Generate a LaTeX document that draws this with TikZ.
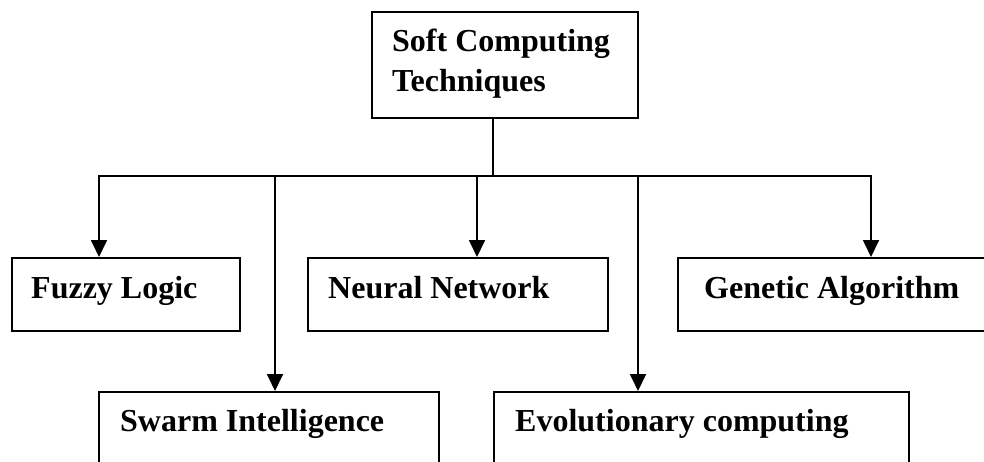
\documentclass[tikz,border=0pt]{standalone}
\usepackage{fontspec}
\setmainfont{Liberation Serif}
\usetikzlibrary{arrows.meta}
\begin{document}
\begin{tikzpicture}[x=1pt,y=-1pt,
  box/.style={draw, line width=1.8pt, inner sep=0pt, anchor=north west},
  lbl/.style={anchor=base west, inner sep=0pt, font=\fontsize{32}{40}\selectfont\bfseries},
  link/.style={line width=1.8pt},
  arrow/.style={link, -{Triangle[width=16pt,length=17pt]}}]
\clip (0,0) rectangle (984,462);

% boxes
\node[box, minimum width=266pt, minimum height=106pt] (root) at (371,11) {};
\node[box, minimum width=228pt, minimum height=73pt] (fuzzy) at (11,257) {};
\node[box, minimum width=300pt, minimum height=73pt] (neural) at (307,257) {};
\node[box, minimum width=320pt, minimum height=73pt] (genetic) at (677,257) {};
\node[box, minimum width=340pt, minimum height=90pt] (swarm) at (98,391) {};
\node[box, minimum width=415pt, minimum height=90pt] (evol) at (493,391) {};

% labels
\node[lbl] (tRootA) at (392,52) {Soft Computing};
\node[lbl] (tRootB) at (392,92) {Techniques};
\node[lbl] (tFuzzy) at (31,298) {Fuzzy Logic};
\node[lbl] (tNeural) at (328,298) {Neural Network};
\node[lbl] (tGenetic) at (704,298) {Genetic Algorithm};
\node[lbl] (tSwarm) at (120,431) {Swarm Intelligence};
\node[lbl] (tEvol) at (515,431) {Evolutionary computing};

% bus and drop points
\coordinate (trunk) at (493,176);
\coordinate (dF) at (99,176);
\coordinate (dS) at (275,176);
\coordinate (dN) at (477,176);
\coordinate (dE) at (638,176);
\coordinate (dG) at (871,176);

\draw[link] (root.south -| trunk) -- (trunk);
\draw[link, line cap=rect] (dF) -- (dG);
\draw[arrow] (dF) -- (dF |- fuzzy.north);
\draw[arrow] (dS) -- (dS |- swarm.north);
\draw[arrow] (dN) -- (dN |- neural.north);
\draw[arrow] (dE) -- (dE |- evol.north);
\draw[arrow] (dG) -- (dG |- genetic.north);
\end{tikzpicture}
\end{document}
